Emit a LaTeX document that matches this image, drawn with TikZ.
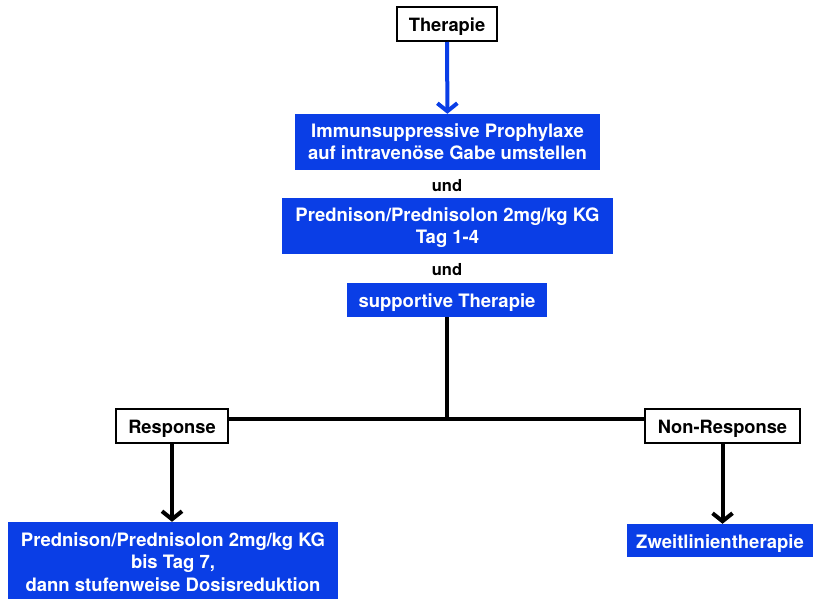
\documentclass[tikz,border=0pt]{standalone}
\usepackage{fontspec}
\setmainfont{TeX Gyre Heros}
\usetikzlibrary{positioning,calc,arrows.meta}
\definecolor{therablue}{RGB}{10,62,230}
\tikzset{wbox/.style={draw=black,line width=2pt,fill=white,inner sep=0pt,text height=15pt,text depth=0pt,font=\fontsize{18.3}{22}\selectfont\bfseries}  }
\tikzset{bbox/.style={fill=therablue,text=white,inner sep=0pt,align=center,text depth=0pt,font=\fontsize{18.5}{22.5}\selectfont\bfseries}  }
\tikzset{undlabel/.style={inner sep=0pt,font=\fontsize{16.5}{19}\selectfont\bfseries}  }
\tikzset{flow/.style={line width=4pt,-{Straight Barb[length=8pt,width=20pt,line width=4pt]}}  }
\tikzset{>={Straight Barb}}

\begin{document}
\begin{tikzpicture}[x=1pt,y=-1pt]
    \useasboundingbox (0,0) rectangle (813,599);

    \node[wbox,minimum width=100pt,minimum height=34pt] (thera) at (447,24) {Therapie};

    \node[bbox,text height=35pt,minimum width=305pt,minimum height=56pt] (prophy) at (447.5,142)
      {Immunsuppressive Prophylaxe\\auf intravenöse Gabe umstellen};
    \node[undlabel] (und1) at (447,186) {und};
    \node[bbox,text height=35pt,minimum width=331pt,minimum height=56pt] (pred) at (447.5,226)
      {Prednison/Prednisolon 2mg/kg KG\\Tag 1-4};
    \node[undlabel] (und2) at (447,270) {und};
    \node[bbox,text height=15pt,minimum width=200pt,minimum height=34pt] (supp) at (447,300) {supportive Therapie};

    \coordinate (junc) at (447,419); % branching point

    \node[wbox,minimum width=112pt,minimum height=34pt] (resp) at (172,426) {Response};
    \node[wbox,minimum width=155pt,minimum height=34pt] (nonresp) at (722.5,426) {Non-Response};

    \node[bbox,text height=60pt,minimum width=330pt,minimum height=78pt] (taper) at (173,561)
      {Prednison/Prednisolon 2mg/kg KG\\bis Tag 7,\\dann stufenweise Dosisreduktion};
    \node[bbox,text height=15pt,minimum width=186pt,minimum height=33pt] (zweit) at (720,540.5) {Zweitlinientherapie};

    \draw[flow,therablue] (thera) -- (prophy);

    \draw[line width=4pt] (supp.south) -- (junc);
    \draw[line width=4pt] (resp.east |- junc) -- (nonresp.west |- junc);

    \draw[flow] (resp) -- (resp |- taper.north);
    \draw[flow] (nonresp) -- (nonresp |- zweit.north);
\end{tikzpicture}
\end{document}
